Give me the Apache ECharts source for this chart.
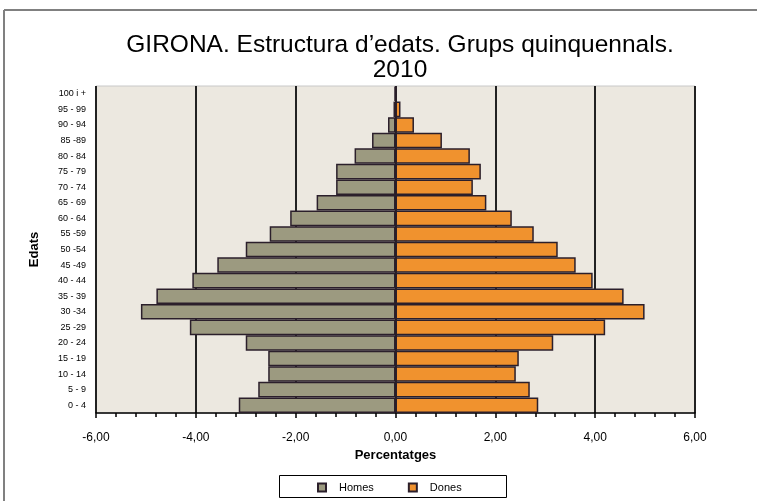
<!DOCTYPE html>
<html>
<head>
<meta charset="utf-8">
<script src="https://cdn.jsdelivr.net/npm/echarts@6/dist/echarts.min.js"></script>
<style>html,body{margin:0;padding:0;background:#fff}#c{width:757px;height:501px}</style>
</head>
<body>
<div id="c"></div>
<script>
var categories = ["0 - 4","5 - 9","10 - 14","15 - 19","20 - 24","25 -29","30 -34","35 - 39","40 - 44","45 -49","50 -54","55 -59","60 - 64","65 - 69","70 - 74","75 - 79","80 - 84","85 -89","90 - 94","95 - 99","100 i +"];
var homes = [-3.14,-2.75,-2.55,-2.55,-3.00,-4.12,-5.10,-4.79,-4.07,-3.57,-3.00,-2.52,-2.11,-1.58,-1.19,-1.19,-0.82,-0.47,-0.15,-0.04,-0.02];
var dones = [2.86,2.69,2.41,2.47,3.16,4.20,4.99,4.57,3.95,3.61,3.25,2.77,2.33,1.82,1.55,1.71,1.49,0.93,0.37,0.10,0.02];
var xTicks = [-6,-4,-2,0,2,4,6];

var chart = echarts.init(document.getElementById('c'), null, {renderer:'canvas'});
var border = '#2b1f2b';
chart.setOption({
  animation:false,
  backgroundColor:'#ffffff',
  title:{
    text:"GIRONA. Estructura d\u2019edats. Grups quinquennals.\n2010",
    left:395, top:28, textAlign:'center',
    textStyle:{fontFamily:"'Liberation Sans',Arial,sans-serif",fontSize:24.5,fontWeight:'normal',color:'#000',lineHeight:25}
  },
  legend:{
    left:312, top:477, itemWidth:8, itemHeight:8, itemGap:34, icon:'rect',
    textStyle:{fontFamily:"'Liberation Sans',Arial,sans-serif",fontSize:11,color:'#000',padding:[0,0,0,8]},
    data:['Homes','Dones']
  },
  grid:{left:96,right:62,top:86,bottom:88,show:true,backgroundColor:'#ece8e0',borderColor:'#c8c8c8',borderWidth:1},
  xAxis:{
    type:'value', min:xTicks[0], max:xTicks[xTicks.length-1], interval:2,
    axisLine:{show:true,onZero:false,lineStyle:{color:'#000',width:1.5}},
    axisTick:{show:true,length:5,lineStyle:{color:'#000',width:1.5}},
    minorTick:{show:true,splitNumber:5,length:4,lineStyle:{color:'#000',width:1.5}},
    splitLine:{show:true,lineStyle:{color:'#222',width:2}},
    axisLabel:{margin:19,color:'#000',fontFamily:"'Liberation Sans',Arial,sans-serif",fontSize:12,
      formatter:function(v){return v.toFixed(2).replace('.',',');}},
    name:'Percentatges', nameLocation:'middle', nameGap:36,
    nameTextStyle:{fontFamily:"'Liberation Sans',Arial,sans-serif",fontSize:13,fontWeight:'bold',color:'#000'}
  },
  yAxis:{
    type:'category', data:categories,
    axisLine:{show:false,onZero:false}, axisTick:{show:false},
    axisLabel:{margin:10,color:'#000',fontFamily:"'Liberation Sans',Arial,sans-serif",fontSize:9},
    name:'Edats', nameLocation:'middle', nameGap:55, nameRotate:90,
    nameTextStyle:{fontFamily:"'Liberation Sans',Arial,sans-serif",fontSize:13,fontWeight:'bold',color:'#000'}
  },
  series:[
    {name:'Homes',type:'bar',data:homes,barGap:'-100%',barCategoryGap:0,
     itemStyle:{color:'#9c9a80',borderColor:border,borderWidth:1.5}},
    {name:'Dones',type:'bar',data:dones,barGap:'-100%',barCategoryGap:0,
     itemStyle:{color:'#f0922e',borderColor:border,borderWidth:1.5}}
  ],
  graphic:[
    {type:'line',shape:{x1:4,y1:10,x2:757,y2:10},style:{stroke:'#808080',lineWidth:2},silent:true},
    {type:'line',shape:{x1:4,y1:10,x2:4,y2:501},style:{stroke:'#808080',lineWidth:2},silent:true},
    {type:'rect',shape:{x:279.5,y:475.5,width:227,height:22},style:{fill:'none',stroke:'#000',lineWidth:1},silent:true,z:-1}
  ]
});
</script>
</body>
</html>
